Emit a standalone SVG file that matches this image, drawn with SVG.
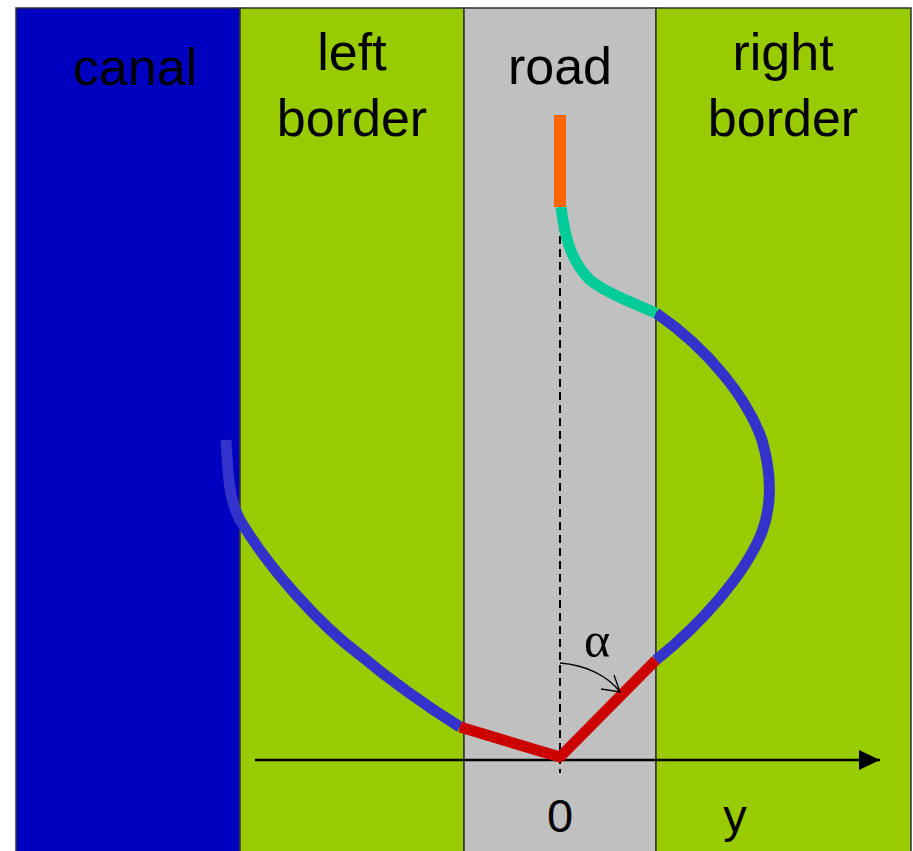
<svg xmlns="http://www.w3.org/2000/svg" width="913" height="851" viewBox="0 0 913 851">
<defs>
<style>
.zone{stroke:#333;stroke-width:1.5}
.lbl{font-family:"Liberation Sans",Arial,sans-serif;font-size:52px;fill:#000;text-anchor:middle}
.ax{font-family:"Liberation Sans",Arial,sans-serif;font-size:47px;fill:#000;text-anchor:middle}
.path{fill:none;stroke-width:11;stroke-linejoin:round}
</style>
<marker id="tri" viewBox="0 0 21 20" refX="21" refY="10" markerWidth="21" markerHeight="20" markerUnits="userSpaceOnUse" orient="auto">
<path d="M0,0 L21,10 L0,20 Z" fill="#000"/>
</marker>
</defs>
<rect width="913" height="851" fill="#fff"/>
<g id="canal">
<rect class="zone" x="16" y="8" width="224" height="850" fill="#0000C0"/>
<text class="lbl" x="135" y="85">canal</text>
</g>
<g id="left-border">
<rect class="zone" x="240" y="8" width="224" height="850" fill="#99CC00"/>
<text class="lbl" x="352" y="70">left</text>
<text class="lbl" x="352" y="136">border</text>
</g>
<g id="road">
<rect class="zone" x="464" y="8" width="192" height="850" fill="#C0C0C0"/>
<text class="lbl" x="560" y="84">road</text>
</g>
<g id="right-border">
<rect class="zone" x="656" y="8" width="255" height="850" fill="#99CC00"/>
<text class="lbl" x="783" y="70">right</text>
<text class="lbl" x="783" y="136">border</text>
</g>
<g id="connectors">
<line x1="560" y1="210" x2="560" y2="773" stroke="#000" stroke-width="2" stroke-dasharray="8,5"/>
<line x1="255" y1="760" x2="880" y2="760" stroke="#000" stroke-width="2.5" marker-end="url(#tri)"/>
<path class="path" stroke="#3333CC" d="M226,440 C228,475 229,500 240,520 C270,570 320,625 360,655 C390,680 425,705 460,727"/>
<path class="path" stroke="#CC0000" stroke-linejoin="miter" d="M460,727 L560,757 L656,660"/>
<path class="path" stroke="#3333CC" d="M656,660 C700,625 745,575 762,532 C772,505 772,475 762,440 C748,400 710,350 656,313"/>
<path class="path" stroke="#00CC99" d="M656,313 C630,302 605,292 590,280 C572,262 565,240 561,207"/>
<line x1="560" y1="115" x2="560" y2="207" stroke="#FF6600" stroke-width="12"/>
<path d="M560,663 C585,665 607,675 620,692" fill="none" stroke="#000" stroke-width="1.3"/>
<path d="M614,675 L620,692 L601,689" fill="none" stroke="#000" stroke-width="1.3"/>
</g>
<text x="597" y="657" font-family="Liberation Serif,'Times New Roman',serif" font-size="50" text-anchor="middle">α</text>
<text class="ax" x="560" y="832">0</text>
<text class="ax" x="735" y="832">y</text>
</svg>
